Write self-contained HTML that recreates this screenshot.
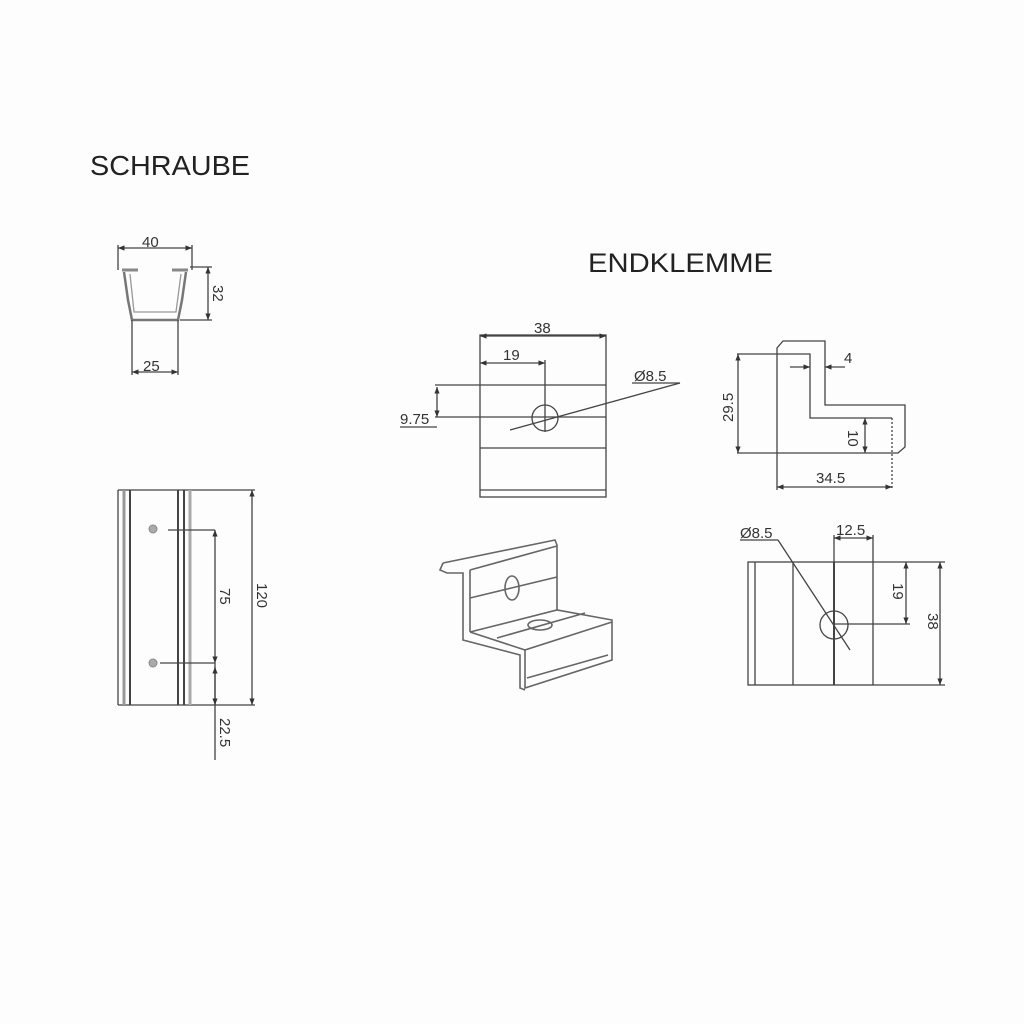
<!DOCTYPE html>
<html><head><style>body{margin:0;background:#fdfdfd}svg{display:block}</style></head>
<body>
<svg width="1024" height="1024" viewBox="0 0 1024 1024" xmlns="http://www.w3.org/2000/svg" font-family="Liberation Sans, sans-serif">
<defs>
<marker id="a" viewBox="0 0 10 10" refX="10" refY="5" markerWidth="7" markerHeight="5" orient="auto-start-reverse"><path d="M0,1 L10,5 L0,9z" fill="#333"/></marker>
</defs>
<rect width="1024" height="1024" fill="#fdfdfd"/>
<text x="90" y="175" font-size="28" fill="#222" textLength="160" lengthAdjust="spacingAndGlyphs">SCHRAUBE</text>
<text x="588" y="272" font-size="27" fill="#222" textLength="185" lengthAdjust="spacingAndGlyphs">ENDKLEMME</text>

<g stroke="#444" stroke-width="1.3" fill="none">
<!-- Schraube profile -->
<line x1="118" y1="248" x2="192" y2="248" marker-start="url(#a)" marker-end="url(#a)"/>
<line x1="118" y1="245" x2="118" y2="270"/><line x1="192" y1="245" x2="192" y2="270"/>
<path d="M122,270 L138,270 M172,270 L188,270" stroke-width="3" stroke="#888"/>
<path d="M124,272 L128,300 L132,320 L178,320 L182,300 L186,272" stroke="#777" stroke-width="2.5"/>
<path d="M130,274 L134,312 L176,312 L181,274" stroke="#999"/>
<line x1="132" y1="320" x2="132" y2="375"/><line x1="178" y1="320" x2="178" y2="375"/>
<line x1="132" y1="372" x2="178" y2="372" marker-start="url(#a)" marker-end="url(#a)"/>
<line x1="190" y1="267" x2="212" y2="267"/><line x1="180" y1="320" x2="212" y2="320"/>
<line x1="208" y1="267" x2="208" y2="320" marker-start="url(#a)" marker-end="url(#a)"/>

<!-- Schraube side -->
<line x1="118" y1="490" x2="255" y2="490"/>
<line x1="118" y1="705" x2="255" y2="705"/>
<line x1="118" y1="490" x2="118" y2="705"/>
<line x1="124" y1="490" x2="124" y2="705" stroke="#999" stroke-width="3"/>
<line x1="130" y1="490" x2="130" y2="705" stroke-width="2"/>
<line x1="178" y1="490" x2="178" y2="705" stroke-width="2"/>
<line x1="184" y1="490" x2="184" y2="705" stroke-width="2"/>
<line x1="190" y1="490" x2="190" y2="705" stroke="#aaa" stroke-width="3"/>
<line x1="252" y1="490" x2="252" y2="705" marker-start="url(#a)" marker-end="url(#a)"/>
<line x1="168" y1="530" x2="215" y2="530"/>
<line x1="160" y1="663" x2="215" y2="663"/>
<line x1="215" y1="530" x2="215" y2="663" marker-start="url(#a)" marker-end="url(#a)"/>
<line x1="215" y1="663" x2="215" y2="760"/>
<line x1="215" y1="667" x2="215" y2="705" marker-start="url(#a)" marker-end="url(#a)"/>

<!-- Endklemme front -->
<rect x="480" y="335" width="126" height="162"/>
<line x1="480" y1="490" x2="606" y2="490"/>
<line x1="480" y1="448" x2="606" y2="448"/>
<line x1="435" y1="385" x2="606" y2="385"/>
<line x1="435" y1="417" x2="606" y2="417"/>
<line x1="480" y1="336" x2="606" y2="336" marker-start="url(#a)" marker-end="url(#a)"/>
<line x1="480" y1="363" x2="545" y2="363" marker-start="url(#a)" marker-end="url(#a)"/>
<line x1="545" y1="360" x2="545" y2="432"/>
<line x1="437" y1="387" x2="437" y2="417" marker-start="url(#a)" marker-end="url(#a)"/>
<line x1="400" y1="427" x2="437" y2="427"/>
<circle cx="545" cy="418" r="13"/>
<line x1="510" y1="430" x2="680" y2="383"/>
<line x1="632" y1="383" x2="680" y2="383"/>

<!-- Endklemme side profile -->
<path d="M777,453 L777,348 L783,341 L825,341 L825,405 L905,405 L905,447 L898,453 L737,453"/>
<path d="M737,354 L810,354 L810,418 L892,418"/>
<line x1="892" y1="418" x2="892" y2="490" stroke-dasharray="2 2"/>
<line x1="777" y1="453" x2="777" y2="490"/>
<line x1="738" y1="354" x2="738" y2="453" marker-start="url(#a)" marker-end="url(#a)"/>
<line x1="777" y1="487" x2="892" y2="487" marker-start="url(#a)" marker-end="url(#a)"/>
<line x1="790" y1="367" x2="810" y2="367" marker-end="url(#a)"/>
<line x1="845" y1="367" x2="825" y2="367" marker-end="url(#a)"/>
<line x1="865" y1="418" x2="865" y2="453" marker-start="url(#a)" marker-end="url(#a)"/>

<!-- Isometric -->
<g stroke="#666" stroke-width="1.6">
<path d="M443,563 L555,540 L557,545 L557,610 M470,570 L557,546"/>
<path d="M443,563 L440,570 L447,573 L463,573 L463,640 L520,655 L520,688 L525,690"/>
<path d="M470,570 L470,632"/>
<path d="M470,632 L557,610 L612,620 L612,660 L525,688 L525,650 L612,622"/>
<path d="M470,632 L525,650"/>
<path d="M470,598 L557,577"/>
<ellipse cx="512" cy="588" rx="7" ry="12"/>
<path d="M497,638 L585,613"/>
<ellipse cx="540" cy="625" rx="12" ry="5"/>
<path d="M527,678 L608,655"/>
</g>

<!-- bottom right view -->
<rect x="748" y="562" width="125" height="123"/>
<line x1="755" y1="562" x2="755" y2="685"/>
<line x1="793" y1="562" x2="793" y2="685"/>
<line x1="834" y1="562" x2="834" y2="685" stroke-width="2"/>
<line x1="873" y1="562" x2="945" y2="562"/>
<line x1="873" y1="685" x2="945" y2="685"/>
<line x1="834" y1="624" x2="910" y2="624"/>
<line x1="906" y1="562" x2="906" y2="624" marker-start="url(#a)" marker-end="url(#a)"/>
<line x1="940" y1="562" x2="940" y2="685" marker-start="url(#a)" marker-end="url(#a)"/>
<line x1="834" y1="535" x2="834" y2="562"/>
<line x1="873" y1="535" x2="873" y2="562"/>
<line x1="834" y1="538" x2="873" y2="538" marker-start="url(#a)" marker-end="url(#a)"/>
<circle cx="834" cy="625" r="14"/>
<line x1="740" y1="540" x2="778" y2="540"/>
<line x1="778" y1="540" x2="850" y2="650"/>
</g>

<g fill="#333" font-size="15">
<text x="142" y="247">40</text>
<text x="143" y="371">25</text>
<text x="213" y="285" transform="rotate(90 213 285)">32</text>
<text x="257" y="583" transform="rotate(90 257 583)">120</text>
<text x="220" y="588" transform="rotate(90 220 588)">75</text>
<text x="220" y="718" transform="rotate(90 220 718)">22.5</text>
<text x="534" y="333">38</text>
<text x="503" y="360">19</text>
<text x="400" y="424">9.75</text>
<text x="634" y="381">Ø8.5</text>
<text x="733" y="422" transform="rotate(-90 733 422)">29.5</text>
<text x="816" y="483">34.5</text>
<text x="844" y="363">4</text>
<text x="848" y="430" transform="rotate(90 848 430)">10</text>
<text x="740" y="538">Ø8.5</text>
<text x="836" y="535">12.5</text>
<text x="893" y="583" transform="rotate(90 893 583)">19</text>
<text x="928" y="613" transform="rotate(90 928 613)">38</text>
</g>
<g fill="#aaa" stroke="#888"><circle cx="153" cy="529" r="4"/><circle cx="153" cy="663" r="4"/></g>
</svg>
</body></html>
